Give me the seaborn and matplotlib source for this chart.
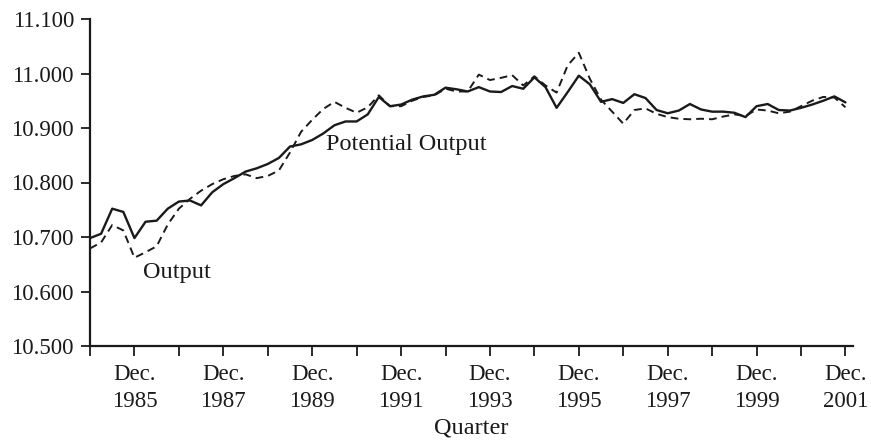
import numpy as np
import matplotlib
matplotlib.use("Agg")
import matplotlib.pyplot as plt
import pandas as pd
import seaborn as sns

# quarterly data, Dec 1984 .. Dec 2001 (x as year + fraction, Dec = .75)
start_year = 1984.75
potential = [10.698, 10.706, 10.752, 10.746, 10.698, 10.728, 10.730, 10.752, 10.765, 10.767,
             10.758, 10.782, 10.797, 10.808, 10.820, 10.826, 10.834, 10.845, 10.866, 10.870,
             10.878, 10.890, 10.905, 10.912, 10.912, 10.925, 10.957, 10.940, 10.943, 10.952,
             10.958, 10.961, 10.974, 10.971, 10.967, 10.975, 10.967, 10.966, 10.977, 10.972,
             10.993, 10.975, 10.937, 10.966, 10.996, 10.980, 10.948, 10.953, 10.946, 10.962,
             10.955, 10.933, 10.927, 10.932, 10.944, 10.934, 10.930, 10.930, 10.928, 10.920,
             10.940, 10.944, 10.933, 10.932, 10.937, 10.943, 10.950, 10.958, 10.947]
output = [10.679, 10.690, 10.722, 10.712, 10.662, 10.672, 10.683, 10.723, 10.752, 10.770,
          10.785, 10.797, 10.806, 10.812, 10.815, 10.808, 10.812, 10.822, 10.855, 10.893,
          10.915, 10.935, 10.948, 10.937, 10.928, 10.938, 10.960, 10.940, 10.940, 10.950,
          10.957, 10.960, 10.972, 10.967, 10.967, 10.998, 10.988, 10.992, 10.997, 10.978,
          10.995, 10.978, 10.965, 11.015, 11.038, 10.990, 10.952, 10.930, 10.908, 10.933,
          10.936, 10.926, 10.920, 10.917, 10.916, 10.917, 10.916, 10.921, 10.925, 10.922,
          10.934, 10.932, 10.927, 10.930, 10.940, 10.950, 10.957, 10.956, 10.938]
quarters = start_year + np.arange(len(potential)) / 4

tick_years = np.arange(1984, 2002)
tick_labels = ["Dec.\n%d" % y if y % 2 == 1 else "" for y in tick_years]
y_ticks = [10.5, 10.6, 10.7, 10.8, 10.9, 11.0, 11.1]

df = pd.DataFrame({"quarter": quarters, "potential": potential, "output": output})

sns.set_style("ticks")
plt.rcParams["font.family"] = ["Liberation Serif", "DejaVu Serif"]
plt.rcParams["font.size"] = 16.5

fig = plt.figure(figsize=(8.71, 4.43), dpi=100)
ax = fig.add_axes([90 / 871, 1 - 346 / 443, (853 - 90) / 871, (346 - 19) / 443])

sns.lineplot(data=df, x="quarter", y="potential", color="#1a1a1a", lw=1.7, ax=ax)
sns.lineplot(data=df, x="quarter", y="output", color="#1a1a1a", lw=1.4,
             linestyle=(0, (4, 2.6)), ax=ax)

ax.set_xlim(start_year, 2001.92)
ax.set_ylim(10.5, 11.1)
ax.set_xticks(tick_years + 0.75)
ax.set_xticklabels(tick_labels, linespacing=1.38)
ax.set_yticks(y_ticks)
ax.set_yticklabels(["%.3f" % v for v in y_ticks])
ax.tick_params(axis="x", length=7, width=1.3, pad=6, colors="#1a1a1a")
ax.tick_params(axis="y", length=6.5, width=1.3, pad=5, colors="#1a1a1a")
for s in ["left", "bottom"]:
    ax.spines[s].set_linewidth(1.6)
    ax.spines[s].set_color("#1a1a1a")
sns.despine(ax=ax)

ax.set_xlabel("Quarter", labelpad=4, fontsize=17.5, color="#1a1a1a")
ax.set_ylabel("")

ax.text(1985.95, 10.635, "Output", fontsize=17.5, color="#1a1a1a", va="center")
ax.text(1990.05, 10.87, "Potential Output", fontsize=17.5, color="#1a1a1a", va="center")

fig.savefig("out.png", dpi=100)
